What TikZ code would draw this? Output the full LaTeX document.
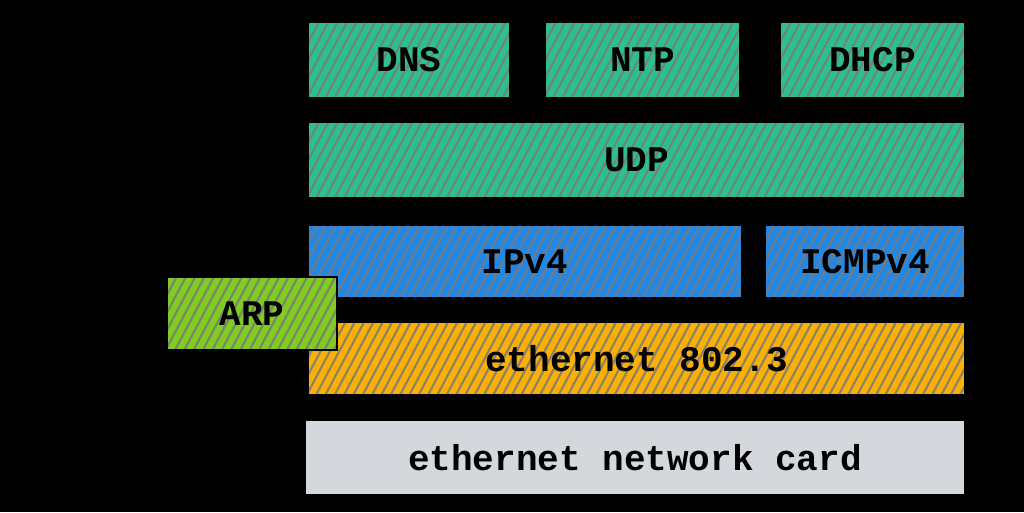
\documentclass[tikz,border=0pt]{standalone}
\usepackage{fontspec}
\setmainfont{Liberation Mono}
\definecolor{cgreen}{HTML}{2CC090}
\definecolor{cblue}{HTML}{2288E6}
\definecolor{clime}{HTML}{80CC20}
\definecolor{corange}{HTML}{FAB005}
\definecolor{cgray}{HTML}{D4D8DC}
\definecolor{chatch}{HTML}{7A7A7A}
\begin{document}
\begin{tikzpicture}[x=0.75pt,y=-0.75pt,
  layer/.style={draw=black,line width=1.6pt,inner sep=0pt,
    font=\bfseries\fontsize{27}{29}\selectfont,text=black,
    path picture={\foreach \k in {0,...,80}{\draw[chatch,line width=1.6pt,opacity=0.85]
      ([xshift=\k*7pt-50pt]path picture bounding box.south west) -- ++(62:80pt);}}},
  plain/.style={draw=black,line width=1.6pt,inner sep=0pt,
    font=\bfseries\fontsize{27}{29}\selectfont,text=black}]
\fill[black] (0,0) rectangle (1024,512);
\useasboundingbox (0,0) rectangle (1024,512);
\node[layer,fill=cgreen,minimum width=202*0.75pt,minimum height=76*0.75pt] (dns) at (409,60) {DNS};
\node[layer,fill=cgreen,minimum width=195*0.75pt,minimum height=76*0.75pt] (ntp) at (642.5,60) {NTP};
\node[layer,fill=cgreen,minimum width=185*0.75pt,minimum height=76*0.75pt] (dhcp) at (872.5,60) {DHCP};
\node[layer,fill=cgreen,minimum width=657*0.75pt,minimum height=76*0.75pt] (udp) at (636.5,160) {UDP};
\node[layer,fill=cblue,minimum width=434*0.75pt,minimum height=73*0.75pt] (ipv4) at (525,261.5) {IPv4};
\node[layer,fill=cblue,minimum width=200*0.75pt,minimum height=73*0.75pt] (icmp) at (865,261.5) {ICMPv4};
\node[layer,fill=corange,minimum width=657*0.75pt,minimum height=73*0.75pt] (eth) at (636.5,358.5) {ethernet 802.3};
\node[plain,fill=cgray,minimum width=660*0.75pt,minimum height=75*0.75pt] (card) at (635,457.5) {ethernet network card};
\node[layer,fill=clime,minimum width=170*0.75pt,minimum height=73*0.75pt] (arp) at (252,313.5) {ARP};
\end{tikzpicture}
\end{document}
